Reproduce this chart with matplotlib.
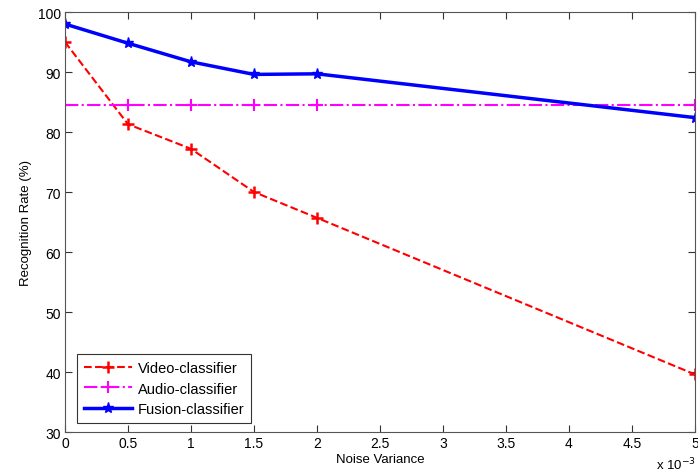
import matplotlib.pyplot as plt

# noise variance (x 1e-3)
noise = [0, 0.5, 1, 1.5, 2, 5]
video = [95.0, 81.3, 77.2, 70.0, 65.7, 39.6]
audio = [84.5, 84.5, 84.5, 84.5, 84.5, 84.5]
fusion = [98.0, 94.8, 91.7, 89.6, 89.7, 82.4]

plt.rcParams['font.family'] = ['Liberation Sans', 'DejaVu Sans']

fig = plt.figure(figsize=(6.98, 4.77), dpi=100)
ax = fig.add_axes([0.0931, 0.0922, 0.9026, 0.8805])

ax.plot(noise, video, color='red', linestyle='--', linewidth=1.5,
        marker='+', markersize=9, markeredgewidth=1.8, label='Video-classifier')
ax.plot(noise, audio, color='magenta', linestyle='-.', linewidth=1.5,
        marker='+', markersize=9, markeredgewidth=1.5, label='Audio-classifier')
ax.plot(noise, fusion, color='blue', linestyle='-', linewidth=2.5,
        marker='*', markersize=8, label='Fusion-classifier')

ax.set_xlim(0, 5)
ax.set_ylim(30, 100)
ax.set_xticks([0, 0.5, 1, 1.5, 2, 2.5, 3, 3.5, 4, 4.5, 5])
ax.set_xticklabels(['0', '0.5', '1', '1.5', '2', '2.5', '3', '3.5', '4', '4.5', '5'])
ax.set_yticks(range(30, 101, 10))
ax.tick_params(direction='in', top=True, right=True, length=5,
               labelsize=10, color='#333333', pad=3)
for s in ax.spines.values():
    s.set_color('#555555')

ax.set_xlabel('Noise Variance', fontsize=9.5, labelpad=2)
ax.set_ylabel('Recognition Rate (%)', fontsize=9.5, labelpad=4)
fig.text(0.997, 0.008, r'x 10$^{-3}$', fontsize=9.5, ha='right', va='bottom')

leg = ax.legend(loc='lower left', bbox_to_anchor=(0.008, 0.005), fontsize=10.5,
                frameon=True, fancybox=False, handlelength=3.3,
                borderpad=0.45, labelspacing=0.45, handletextpad=0.4)
leg.get_frame().set_edgecolor('black')
leg.get_frame().set_linewidth(0.8)

plt.savefig('out.png', dpi=100)
